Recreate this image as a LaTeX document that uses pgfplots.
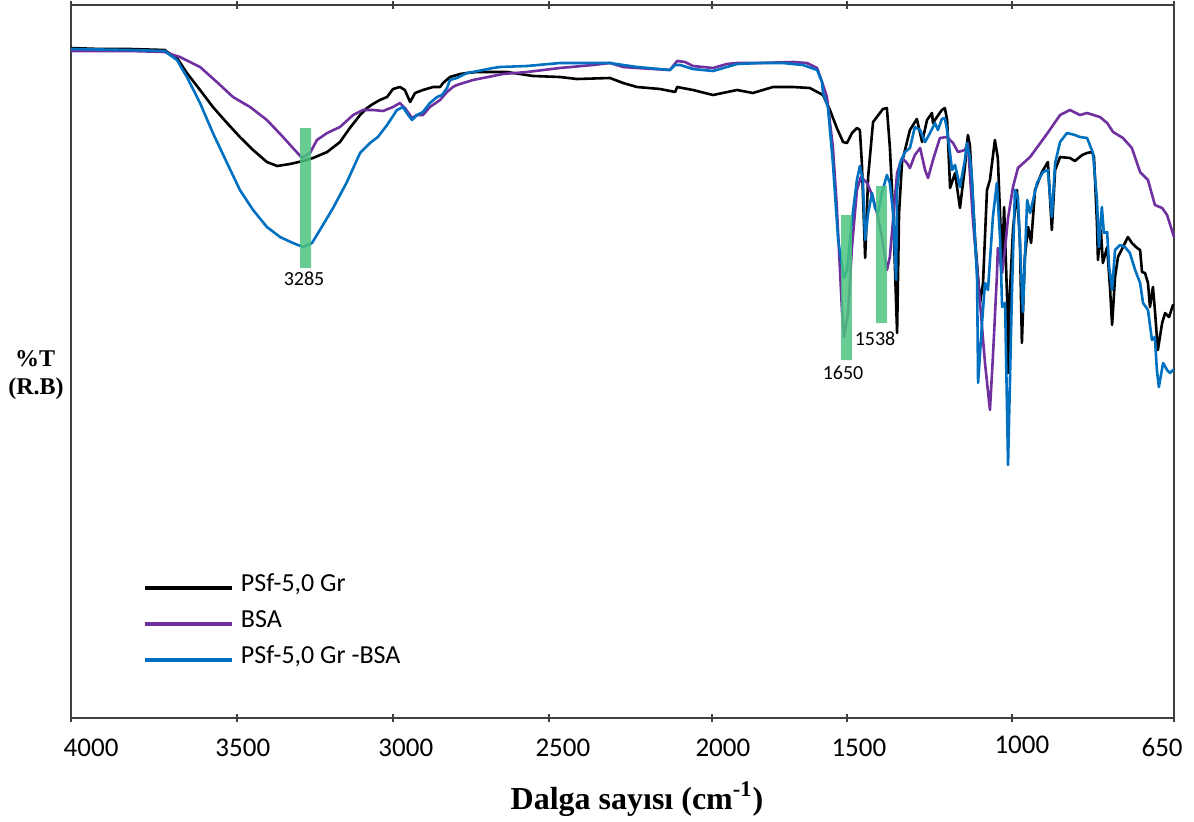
\documentclass[border=0pt]{standalone}
\usepackage{fontspec}
\setmainfont{Carlito}
\newfontfamily\tnr{Liberation Serif}
\usepackage{pgfplots}
\pgfplotsset{compat=1.18}

\definecolor{psf}{RGB}{0,0,0}
\definecolor{bsa}{RGB}{112,48,160}
\definecolor{psfbsa}{RGB}{0,112,192}
\definecolor{band}{RGB}{76,196,128}

\begin{document}
\begin{tikzpicture}
\begin{axis}[
    name=ax,
    scale only axis,
    width=551.5pt, height=356.5pt,
    x dir=reverse,
    xmin=650, xmax=4000, ymin=0, ymax=713,
    clip=false,
    axis line style={black!75, line width=0.7pt},
    ytick=\empty,
    xtick={4000,3496,3022,2548,2053,1643,1142,650},
    xticklabels={},
    major tick length=4pt, tick align=center,
    tick style={black!75, line width=0.7pt},
    every axis plot/.append style={line width=1.3pt, line join=round},
    legend cell align=left,
    legend image code/.code={\draw[#1, line width=1.6pt] (-1pt,-1pt) -- (42.5pt,-1pt); \path (46.5pt,-1pt);},
    legend style={at={(0.0653,0.202)}, anchor=north west, draw=none, fill=none,
      inner sep=0pt, outer sep=0pt, row sep=6pt,
      font=\fontsize{13}{15}\selectfont,
      nodes={inner sep=0pt, text height=9pt, text depth=3pt}},
]

% PSf-5,0 Gr
\addplot[psf] coordinates {
(4000,670) (3912,669) (3821,669) (3714,668) (3708,666) (3678,660) (3648,645) (3608,628)
(3569,611) (3526,595) (3487,581) (3447,568) (3405,556) (3374,552) (3335,554) (3295,557)
(3265,560) (3222,566) (3183,576) (3153,590) (3122,603) (3101,610) (3083,614) (3062,618)
(3040,621) (3022,629) (3001,631) (2986,628) (2970,616) (2955,625) (2931,628) (2900,631)
(2879,631) (2870,635) (2849,641) (2818,644) (2797,645) (2767,646) (2676,646) (2597,642)
(2515,641) (2463,639) (2363,640) (2323,635) (2281,631) (2211,629) (2165,626) (2159,631)
(2111,628) (2050,623) (1977,628) (1929,625) (1868,631) (1807,631) (1756,630) (1716,623)
(1695,608) (1674,590) (1655,576) (1643,575) (1628,585) (1613,590) (1604,588) (1598,555)
(1588,460) (1579,541) (1564,596) (1534,609) (1522,610) (1513,571) (1503,505) (1491,385)
(1485,505) (1476,556) (1452,588) (1431,599) (1415,576) (1400,598) (1385,605) (1382,595)
(1370,601) (1355,608) (1346,610) (1339,598) (1330,530) (1315,545) (1300,510) (1285,551)
(1276,583) (1270,573) (1254,478) (1239,415) (1230,435) (1218,528) (1209,538) (1194,578)
(1185,560) (1172,451) (1166,511) (1157,421) (1154,345) (1148,428) (1139,488) (1127,528)
(1118,478) (1112,375) (1103,461) (1093,491) (1084,475) (1072,528) (1051,546) (1033,556)
(1021,488) (1011,548) (996,561) (966,560) (951,557) (929,563) (914,565) (899,566)
(893,561) (884,495) (881,458) (872,488) (866,455) (853,471) (844,428) (838,393)
(829,441) (820,461) (805,471) (790,481) (778,475) (762,470) (753,468) (747,446)
(738,445) (729,435) (723,411) (714,431) (708,408) (699,368) (686,395) (677,405)
(665,401) (653,413) (650,413)
};
\addlegendentry{PSf-5,0 Gr}

% BSA
\addplot[bsa] coordinates {
(4000,667) (3821,667) (3714,666) (3708,665) (3669,661) (3608,651) (3557,636) (3508,621)
(3456,611) (3405,598) (3356,581) (3326,570) (3298,560) (3274,565) (3253,578) (3222,585)
(3183,591) (3143,603) (3113,608) (3083,608) (3052,607) (3022,611) (3001,615) (2986,610)
(2964,600) (2949,603) (2931,603) (2910,611) (2879,618) (2858,626) (2840,631) (2828,633)
(2779,638) (2688,644) (2615,646) (2515,650) (2415,653) (2363,655) (2323,651) (2281,650)
(2181,648) (2159,657) (2135,656) (2111,652) (2050,650) (2008,654) (1977,655) (1907,655)
(1807,656) (1765,655) (1734,650) (1719,636) (1704,621) (1686,571) (1674,511) (1658,405)
(1652,381) (1640,405) (1628,471) (1613,528) (1601,541) (1582,535) (1567,523) (1552,505)
(1537,481) (1522,448) (1513,461) (1491,545) (1476,560) (1461,555) (1452,550) (1437,563)
(1421,570) (1406,548) (1397,540) (1382,558) (1361,580) (1339,581) (1321,575) (1306,566)
(1285,568) (1276,575) (1260,495) (1239,415) (1224,355) (1209,308) (1200,361) (1188,441)
(1185,470) (1172,445) (1163,470) (1154,500) (1139,531) (1124,550) (1087,561) (1036,584)
(996,603) (966,608) (936,603) (914,605) (875,601) (853,595) (835,586) (805,580)
(778,570) (753,546) (729,538) (708,513) (686,510) (671,503) (650,481)
};
\addlegendentry{BSA}

% PSf-5,0 Gr -BSA
\addplot[psfbsa] coordinates {
(4000,669) (3821,668) (3714,667) (3708,665) (3678,658) (3648,641) (3608,615) (3569,585)
(3526,555) (3487,528) (3447,508) (3405,491) (3365,481) (3326,475) (3295,471) (3268,475)
(3244,488) (3204,510) (3162,536) (3122,565) (3092,575) (3068,581) (3040,593) (3010,608)
(2992,611) (2976,603) (2964,598) (2949,603) (2931,606) (2910,615) (2888,621) (2873,623)
(2858,630) (2849,638) (2828,640) (2797,645) (2779,646) (2718,650) (2697,651) (2615,652)
(2515,655) (2415,655) (2363,655) (2323,653) (2281,651) (2181,648) (2165,653) (2150,653)
(2111,649) (2050,647) (2008,651) (1977,654) (1907,655) (1838,655) (1777,653) (1734,648)
(1719,636) (1716,625) (1701,611) (1686,555) (1670,478) (1658,451) (1652,440) (1643,448)
(1628,498) (1613,538) (1604,552) (1595,538) (1588,478) (1579,505) (1567,525) (1558,510)
(1549,505) (1537,525) (1522,543) (1513,535) (1503,505) (1494,438) (1491,528) (1482,555)
(1467,566) (1452,570) (1437,591) (1421,588) (1406,576) (1391,585) (1376,595) (1367,588)
(1355,599) (1346,600) (1339,588) (1324,548) (1315,553) (1300,531) (1285,558) (1279,575)
(1270,561) (1264,541) (1248,438) (1245,335) (1233,395) (1224,435) (1215,428) (1200,501)
(1188,535) (1178,478) (1172,411) (1163,415) (1154,253) (1142,428) (1133,528) (1124,521)
(1112,428) (1109,406) (1096,518) (1087,505) (1066,535) (1048,546) (1033,548) (1021,501)
(1011,555) (996,576) (975,585) (951,583) (936,581) (914,580) (896,565) (884,518)
(878,471) (869,511) (863,485) (853,486) (847,451) (838,428) (829,468) (814,473)
(799,471) (784,465) (768,448) (753,435) (744,415) (729,408) (717,378) (708,381)
(702,348) (696,331) (683,355) (671,348) (662,345) (653,348) (650,348)
};
\addlegendentry{PSf-5,0 Gr -BSA}

% highlighted bands
\addplot[draw=none, fill=band, fill opacity=0.85, forget plot]
  coordinates {(3304,450) (3271,450) (3271,590) (3304,590) (3304,450)};
\addplot[draw=none, fill=band, fill opacity=0.85, forget plot]
  coordinates {(1661,358) (1628,358) (1628,503) (1661,503) (1661,358)};
\addplot[draw=none, fill=band, fill opacity=0.85, forget plot]
  coordinates {(1555,395) (1522,395) (1522,532) (1555,532) (1555,395)};

\node[font=\fontsize{10}{12}\selectfont] at (axis cs:3292,439) {3285};
\node[font=\fontsize{10}{12}\selectfont] at (axis cs:1655,345) {1650};
\node[font=\fontsize{10}{12}\selectfont] at (axis cs:1558,379) {1538};

% tick labels
\begin{scope}[every node/.style={anchor=base, font=\fontsize{13.5}{16}\selectfont}]
\node at (axis cs:3939,-38) {4000};
\node at (axis cs:3478,-38) {3500};
\node at (axis cs:2983,-38) {3000};
\node at (axis cs:2506,-38) {2500};
\node at (axis cs:2020,-38) {2000};
\node at (axis cs:1607,-38) {1500};
\node at (axis cs:1112,-35) {1000};
\node at (axis cs:686,-38) {650};
\end{scope}

\node[anchor=base, font=\tnr\bfseries\fontsize{16}{19}\selectfont]
  at (axis cs:2281,-91) {Dalga sayısı (cm\textsuperscript{-1})};
\node[anchor=base, font=\tnr\bfseries\fontsize{12}{14}\selectfont]
  at (axis cs:4109,352) {\%T};
\node[anchor=base, font=\tnr\bfseries\fontsize{12}{14}\selectfont]
  at (axis cs:4106,324) {(R.B)};
\end{axis}
\pgfresetboundingbox
\path ([shift={(-35.5pt,-51.5pt)}]ax.south west) rectangle ([shift={(10pt,2.5pt)}]ax.north east);
\end{tikzpicture}
\end{document}
